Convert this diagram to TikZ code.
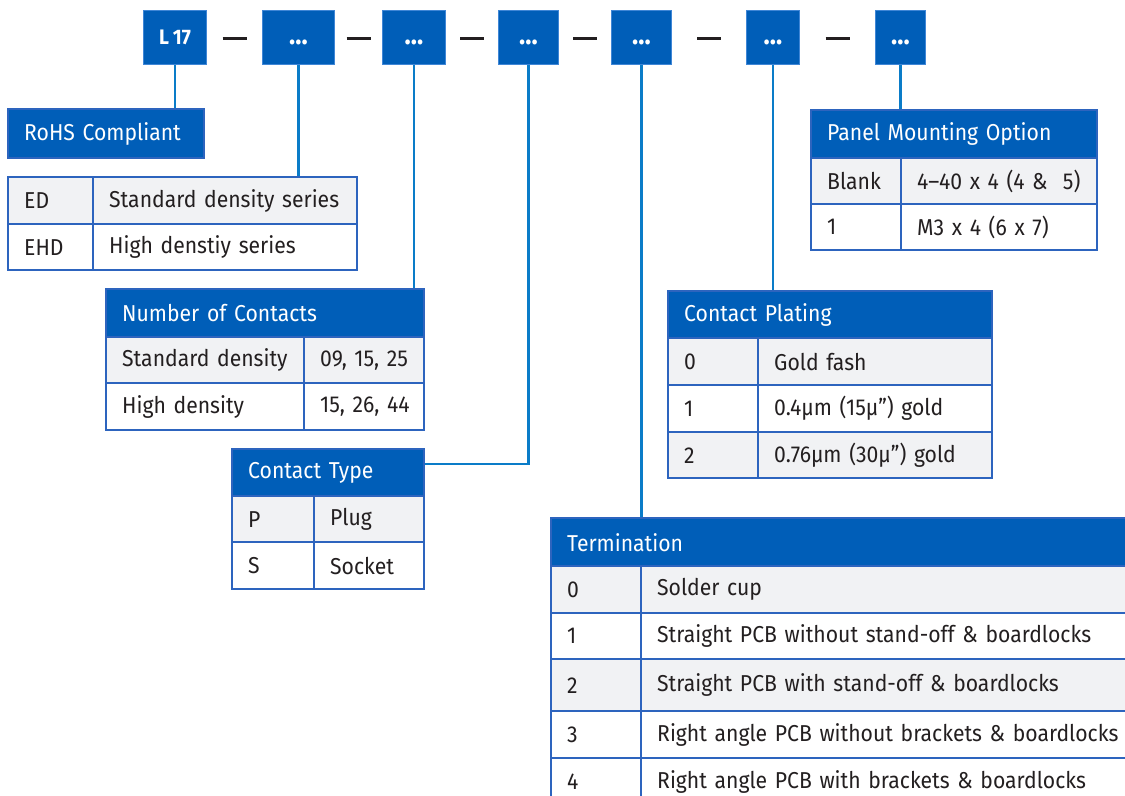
\documentclass[tikz,border=0pt]{standalone}
\usepackage{fontspec}
\setmainfont[FakeStretch=0.92, WordSpace=0.85]{Fira Sans}
\usetikzlibrary{calc}

\definecolor{headblue}{HTML}{005EB8}
\definecolor{boxedge}{HTML}{3F86D6}
\definecolor{tblline}{HTML}{2D64BE}
\definecolor{linkblue}{HTML}{0A7CC8}
\definecolor{graybg}{HTML}{F1F2F4}
\definecolor{ink}{HTML}{231F20}

\tikzset{
  codebox/.style={fill=headblue, draw=boxedge, line width=0.5pt, anchor=north west,
    minimum height=27pt, inner sep=0pt, text=white, text height=7pt, text depth=0pt,
    font=\fontsize{10.5}{12}\selectfont\bfseries},
  dashmark/.style={draw=ink, line width=1.5pt},
  link/.style={draw=linkblue, line width=1.1pt},
  cell/.style={draw=tblline, line width=1.2pt, anchor=north west, inner xsep=8pt,
    inner ysep=0pt, align=left, text=ink, fill=white, font=\fontsize{11.5}{14}\selectfont},
  oddrow/.style={fill=graybg},
  headrow/.style={fill=headblue, text=white},
}

% one table cell: [style]{name}{x,y}{width px}{height px}{text}
\newcommand{\spec}[6][]{%
  \node[cell, #1, minimum height=#5*0.5pt, text width=#4*0.5pt-16pt] (#2) at (#3) {\mbox{#6}};}
\newcommand{\more}{{\fontsize{14}{14}\selectfont ...}}

\begin{document}
\begin{tikzpicture}[x=0.5pt, y=-0.5pt]
\path[use as bounding box, clip] (0,0) rectangle (1125,796);

% part number boxes
\foreach \n/\x/\w/\t in {1/143/63/{L 17}, 2/262/72/\more, 3/382/63/\more, 4/498/60/\more,
                         5/611/60/\more, 6/746/53/\more, 7/875/50/\more}
  \node[codebox, minimum width=\w*0.5pt] (cb\n) at (\x,10) {\t};
\foreach \a/\b in {1/2, 2/3, 3/4, 4/5, 5/6, 6/7}
  \draw[dashmark] ($(cb\a.east)!.5!(cb\b.west)+(0,-0.5pt)$) +(-6pt,0) -- +(6pt,0);

% RoHS
\spec[headrow]{rohs}{7,108}{196}{49}{RoHS Compliant}

% series
\spec[oddrow]{ed0a}{7,176}{85}{47}{ED}
\spec[oddrow]{ed0b}{92,176}{264}{47}{Standard density series}
\spec{ed1a}{7,223}{85}{46}{EHD}
\spec{ed1b}{92,223}{264}{46}{High denstiy series}

% number of contacts
\spec[headrow]{nchead}{105,288}{318}{48}{Number of Contacts}
\spec[oddrow]{nc0a}{105,336}{198}{46}{Standard density}
\spec[oddrow]{nc0b}{303,336}{120}{46}{09, 15, 25}
\spec{nc1a}{105,382}{198}{47}{High density}
\spec{nc1b}{303,382}{120}{47}{15, 26, 44}

% contact type
\spec[headrow]{cthead}{231,448}{192}{47}{Contact Type}
\spec[oddrow]{ct0a}{231,495}{82}{46}{P}
\spec[oddrow]{ct0b}{313,495}{110}{46}{Plug}
\spec{ct1a}{231,541}{82}{47}{S}
\spec{ct1b}{313,541}{110}{47}{Socket}

% panel mounting
\spec[headrow]{pmhead}{810,109}{286}{48}{Panel Mounting Option}
\spec[oddrow]{pm0a}{810,157}{90}{46}{Blank}
\spec[oddrow]{pm0b}{900,157}{196}{46}{4–40 x 4 (4 \&\ \ 5)}
\spec{pm1a}{810,203}{90}{46}{1}
\spec{pm1b}{900,203}{196}{46}{M3 x 4 (6 x 7)}

% contact plating
\spec[headrow]{cphead}{667,290}{324}{47}{Contact Plating}
\spec[oddrow]{cp0a}{667,337}{90}{47}{0}
\spec[oddrow]{cp0b}{757,337}{234}{47}{Gold fash}
\spec{cp1a}{667,384}{90}{47}{1}
\spec{cp1b}{757,384}{234}{47}{0.4µm (15µ”) gold}
\spec[oddrow]{cp2a}{667,431}{90}{46}{2}
\spec[oddrow]{cp2b}{757,431}{234}{46}{0.76µm (30µ”) gold}

% termination
\spec[headrow]{tmhead}{550,517}{600}{48}{Termination}
\spec[oddrow]{tm0a}{550,565}{90}{47}{0}
\spec[oddrow]{tm0b}{640,565}{510}{47}{Solder cup}
\spec{tm1a}{550,612}{90}{46}{1}
\spec{tm1b}{640,612}{510}{46}{Straight PCB without stand-off \& boardlocks}
\spec[oddrow]{tm2a}{550,658}{90}{52}{2}
\spec[oddrow]{tm2b}{640,658}{510}{52}{Straight PCB with stand-off \& boardlocks}
\spec{tm3a}{550,710}{90}{47}{3}
\spec{tm3b}{640,710}{510}{47}{Right angle PCB without brackets \& boardlocks}
\spec{tm4a}{550,757}{90}{47}{4}
\spec{tm4b}{640,757}{510}{47}{Right angle PCB with brackets \& boardlocks}

% connectors
\draw[link] (cb1.south) -- (cb1.south |- rohs.north);
\draw[link] (cb2.south) -- (cb2.south |- ed0b.north);
\draw[link] (cb3.south) -- (cb3.south |- nchead.north);
\draw[link] (cb4.south) |- ([yshift=4.5pt]cthead.east);
\draw[link] (cb5.south) -- (cb5.south |- tmhead.north);
\draw[link] (cb6.south) -- (cb6.south |- cphead.north);
\draw[link] (cb7.south) -- (cb7.south |- pmhead.north);
\end{tikzpicture}
\end{document}
